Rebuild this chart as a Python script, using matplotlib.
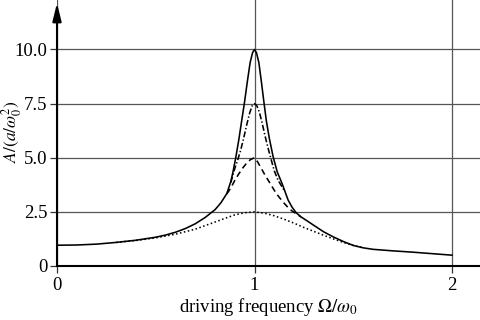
import matplotlib
matplotlib.use("Agg")
import matplotlib.pyplot as plt

plt.rcParams['font.family'] = ['Liberation Serif', 'DejaVu Serif']
plt.rcParams['mathtext.fontset'] = 'stix'
plt.rcParams['lines.scale_dashes'] = False

# Values (Omega/omega0, A/(a/omega0^2))
x_q10 = [0.0, 0.1, 0.2, 0.3, 0.4, 0.5, 0.55, 0.6, 0.65, 0.7, 0.75, 0.8,
         0.83, 0.86, 0.88, 0.89, 0.905, 0.92, 0.935, 0.95, 0.965, 0.978,
         0.99, 1.0, 1.01, 1.022, 1.035, 1.046, 1.06, 1.075, 1.094, 1.115,
         1.14, 1.17, 1.19, 1.21, 1.235, 1.264, 1.3, 1.35, 1.4, 1.45, 1.5, 1.55,
         1.6, 1.7, 1.8, 1.9, 2.0]
y_q10 = [0.96, 0.97, 1.01, 1.09, 1.19, 1.33, 1.43, 1.56, 1.73, 1.95, 2.24, 2.6,
         2.92, 3.35, 3.9, 4.3, 5.0, 5.8, 6.7, 7.6, 8.6, 9.4,
         9.85, 10.0, 9.85, 9.4, 8.5, 7.69, 6.7, 5.9, 5.06, 4.35,
         3.8, 3.05, 2.72, 2.47, 2.27, 2.1, 1.88, 1.58, 1.34, 1.13, 0.95, 0.84,
         0.77, 0.7, 0.64, 0.57, 0.5]

x_q75 = [0.88, 0.9, 0.915, 0.93, 0.945, 0.96, 0.975, 0.988, 1.0, 1.012,
         1.025, 1.04, 1.055, 1.07, 1.085, 1.1, 1.12, 1.15]
y_q75 = [3.85, 4.5, 4.9, 5.35, 5.9, 6.5, 7.05, 7.4, 7.5, 7.4,
         7.1, 6.55, 5.95, 5.4, 4.9, 4.4, 3.95, 3.5]

x_q5 = [0.86, 0.88, 0.9, 0.92, 0.94, 0.96, 0.98, 1.0, 1.015, 1.03, 1.05,
        1.07, 1.09, 1.11, 1.13, 1.15, 1.17, 1.19, 1.21, 1.235]
y_q5 = [3.33, 3.6, 3.95, 4.25, 4.52, 4.75, 4.92, 5.0, 4.82, 4.58, 4.25,
        3.95, 3.65, 3.35, 3.12, 2.9, 2.7, 2.54, 2.42, 2.27]

x_q25 = [0.3, 0.4, 0.5, 0.6, 0.7, 0.8, 0.85, 0.9, 0.95, 1.0, 1.05, 1.1,
         1.15, 1.2, 1.25, 1.3, 1.35, 1.4, 1.45, 1.5, 1.55]
y_q25 = [1.09, 1.18, 1.3, 1.47, 1.7, 2.03, 2.2, 2.36, 2.46, 2.5, 2.44, 2.32,
         2.16, 1.98, 1.78, 1.6, 1.42, 1.25, 1.09, 0.95, 0.84]

x_ticks = [0, 1, 2]
x_labels = ['0', '1', '2']
y_ticks = [0, 2.5, 5.0, 7.5, 10.0]
y_labels = ['0', '2.5', '5.0', '7.5', '10.0']

fig = plt.figure(figsize=(4.8, 3.2), dpi=100)
ax = fig.add_axes([57/480, 54/320, 1 - 57/480, 1 - 54/320])
ax.set_xlim(0, (480 - 57) / 197.5)
ax.set_ylim(0, 266 / 21.65)

ax.grid(True, color='#555555', linewidth=0.9, zorder=1)
ax.set_axisbelow(True)

lw = 1.15
ax.plot(x_q25, y_q25, color='black', lw=lw, linestyle=(0, (1.1, 1.8)), zorder=3)
ax.plot(x_q5, y_q5, color='black', lw=lw, linestyle=(0, (4.3, 2.9)), zorder=3)
ax.plot(x_q75, y_q75, color='black', lw=lw, linestyle=(0, (4.3, 1.6, 1.0, 1.6)), zorder=3)
ax.plot(x_q10, y_q10, color='black', lw=lw, linestyle='-', zorder=4)

for s in ['top', 'right', 'left']:
    ax.spines[s].set_visible(False)
ax.spines['bottom'].set_linewidth(1.5)
ax.spines['bottom'].set_zorder(5)

ax.annotate('', xy=(0, 12.15), xytext=(0, 0), xycoords='data',
            arrowprops=dict(arrowstyle='-|>,head_length=0.9,head_width=0.22',
                            color='black', lw=1.5, mutation_scale=12,
                            shrinkA=0, shrinkB=0),
            annotation_clip=False, zorder=6)

ax.set_xticks(x_ticks)
ax.set_xticklabels(x_labels)
ax.set_yticks(y_ticks)
ax.set_yticklabels(y_labels)
ax.tick_params(direction='out', length=5, width=0.9, labelsize=13.5, pad=2,
               color='#333333')
ax.tick_params(axis='x', pad=3)

ax.set_xlabel(r'driving frequency $\mathit{\Omega}/\omega_0$', fontsize=13.5, labelpad=1)
fig.text(0.025, 0.59, r'$A/(a/\omega_0^2)$', rotation=90, ha='center', va='center',
         fontsize=12.5)

fig.savefig('out.png', dpi=100)
